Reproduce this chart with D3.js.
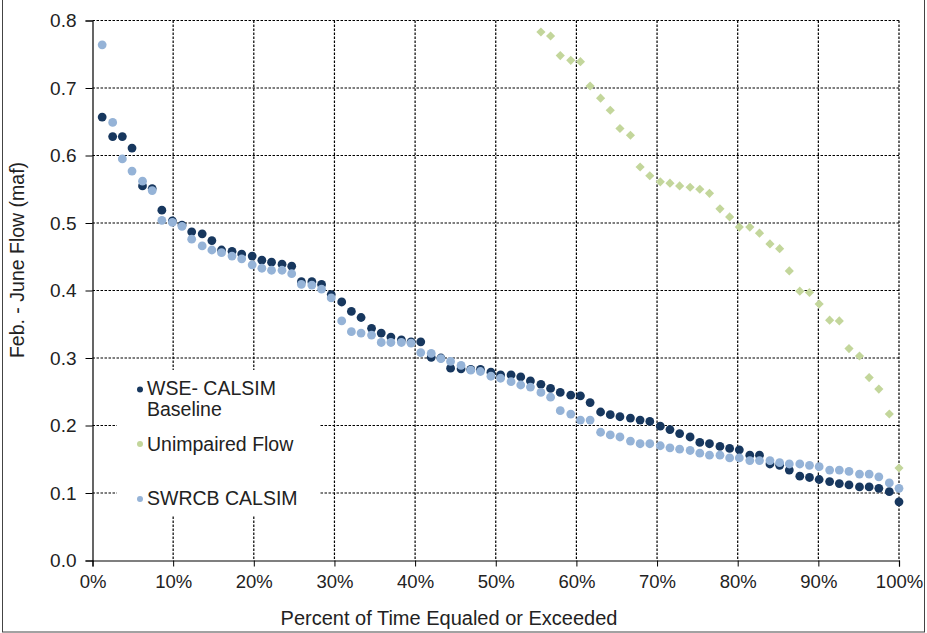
<!DOCTYPE html>
<html>
<head>
<meta charset="utf-8">
<script src="https://cdn.jsdelivr.net/npm/d3@7"></script>
<style>
  html, body { margin: 0; padding: 0; background: #fff; }
  svg { display: block; }
  text { font-family: "Liberation Sans", Arial, sans-serif; fill: #222; }
</style>
</head>
<body>
<svg id="chart" width="927" height="633"></svg>
<script>
// Percent of time equaled or exceeded (81 ranked years)
const exceedPct = [1.2, 2.5, 3.7, 4.9, 6.2, 7.4, 8.6, 9.9, 11.1, 12.3, 13.6, 14.8, 16.0, 17.3, 18.5, 19.8, 21.0, 22.2, 23.5, 24.7,
  25.9, 27.2, 28.4, 29.6, 30.9, 32.1, 33.3, 34.6, 35.8, 37.0, 38.3, 39.5, 40.7, 42.0, 43.2, 44.4, 45.7, 46.9, 48.1, 49.4,
  50.6, 51.9, 53.1, 54.3, 55.6, 56.8, 58.0, 59.3, 60.5, 61.7, 63.0, 64.2, 65.4, 66.7, 67.9, 69.1, 70.4, 71.6, 72.8, 74.1,
  75.3, 76.5, 77.8, 79.0, 80.2, 81.5, 82.7, 84.0, 85.2, 86.4, 87.7, 88.9, 90.1, 91.4, 92.6, 93.8, 95.1, 96.3, 97.5, 98.8, 100.0];

const wseBaseline = [0.657, 0.628, 0.628, 0.611, 0.555, 0.551, 0.519, 0.503, 0.497, 0.487,
  0.484, 0.474, 0.460, 0.458, 0.454, 0.451, 0.445, 0.442, 0.439, 0.436,
  0.413, 0.413, 0.409, 0.394, 0.383, 0.369, 0.360, 0.344, 0.337, 0.331,
  0.327, 0.324, 0.324, 0.301, 0.300, 0.285, 0.284, 0.283, 0.283, 0.279,
  0.275, 0.275, 0.272, 0.266, 0.261, 0.255, 0.249, 0.245, 0.244, 0.234,
  0.220, 0.216, 0.213, 0.211, 0.208, 0.206, 0.199, 0.194, 0.188, 0.183,
  0.175, 0.173, 0.169, 0.166, 0.164, 0.156, 0.156, 0.143, 0.141, 0.134,
  0.125, 0.123, 0.120, 0.117, 0.114, 0.112, 0.109, 0.109, 0.107, 0.102,
  0.087];

const swrcbCalsim = [0.764, 0.649, 0.595, 0.577, 0.562, 0.548, 0.504, 0.501, 0.495, 0.476,
  0.466, 0.460, 0.456, 0.451, 0.447, 0.438, 0.433, 0.430, 0.430, 0.425,
  0.409, 0.408, 0.402, 0.389, 0.355, 0.339, 0.337, 0.334, 0.323, 0.323,
  0.323, 0.322, 0.308, 0.307, 0.299, 0.295, 0.289, 0.282, 0.280, 0.273,
  0.270, 0.265, 0.260, 0.257, 0.249, 0.242, 0.222, 0.217, 0.208, 0.208,
  0.190, 0.186, 0.183, 0.177, 0.173, 0.173, 0.170, 0.167, 0.165, 0.163,
  0.159, 0.156, 0.156, 0.152, 0.152, 0.148, 0.148, 0.148, 0.145, 0.143,
  0.143, 0.141, 0.139, 0.134, 0.134, 0.132, 0.128, 0.128, 0.124, 0.115,
  0.107];

// Unimpaired flow: the 44 highest years are above the 0.8 axis limit (not visible)
const unimpairedHiddenCount = 44;
const unimpairedFlow = [0.783, 0.777, 0.748, 0.741, 0.739, 0.703, 0.685, 0.667, 0.640, 0.630,
  0.583, 0.570, 0.561, 0.559, 0.555, 0.553, 0.550, 0.544, 0.521, 0.509,
  0.494, 0.494, 0.485, 0.469, 0.462, 0.429, 0.399, 0.397, 0.380, 0.356,
  0.355, 0.314, 0.303, 0.271, 0.254, 0.217, 0.137];

const xTicks = [0, 10, 20, 30, 40, 50, 60, 70, 80, 90, 100];
const yTicks = [0.0, 0.1, 0.2, 0.3, 0.4, 0.5, 0.6, 0.7, 0.8];

const seriesNames = ["WSE- CALSIM\nBaseline", "Unimpaired Flow", "SWRCB CALSIM"];
const colors = { wse: "#17375e", unimp: "#c3d69b", swrcb: "#95b3d7" };

const svg = d3.select("#chart");
const W = 927, H = 633;
const plot = { left: 92.5, right: 899, top: 20.5, bottom: 560.5 };

// outer frame
svg.append("rect").attr("x", 2.5).attr("y", -2).attr("width", 922).attr("height", H + 1)
  .attr("fill", "#fff").attr("stroke", "#444").attr("stroke-width", 1);

const x = d3.scaleLinear().domain([0, 100]).range([plot.left, plot.right]);
const y = d3.scaleLinear().domain([0, 0.8]).range([plot.bottom, plot.top]);

// gridlines
const grid = svg.append("g");
grid.selectAll("line.h").data(yTicks.filter(d => d > 0)).join("line")
  .attr("x1", plot.left).attr("x2", plot.right)
  .attr("y1", d => y(d)).attr("y2", d => y(d))
  .attr("stroke", "#000").attr("stroke-width", 1.2).attr("stroke-dasharray", "2.5,1.5");
grid.selectAll("line.v").data(xTicks.filter(d => d > 0)).join("line")
  .attr("x1", d => x(d)).attr("x2", d => x(d))
  .attr("y1", plot.top).attr("y2", plot.bottom)
  .attr("stroke", "#000").attr("stroke-width", 1.2).attr("stroke-dasharray", "2.5,1.5");

// legend box (covers gridlines)
svg.append("rect").attr("x", 117).attr("y", 370).attr("width", 203).attr("height", 145).attr("fill", "#fff");

// axes
const xAxis = d3.axisBottom(x).tickValues(xTicks).tickFormat(d => d + "%").tickSize(6).tickPadding(8);
const gx = svg.append("g").attr("transform", `translate(0,${plot.bottom})`).call(xAxis);
gx.select(".domain").attr("stroke", "#000").attr("stroke-width", 1.2);
gx.selectAll(".tick line").attr("stroke", "#000");
gx.selectAll(".tick text").attr("font-size", 18.5).attr("fill", "#222")
  .attr("font-family", "Liberation Sans, Arial, sans-serif");

const yAxis = d3.axisLeft(y).tickValues(yTicks).tickFormat(d3.format(".1f")).tickSize(7).tickPadding(9);
const gy = svg.append("g").attr("transform", `translate(${plot.left},0)`).call(yAxis);
gy.select(".domain").attr("stroke", "#000").attr("stroke-width", 1.2);
gy.selectAll(".tick line").attr("stroke", "#000");
gy.selectAll(".tick text").attr("font-size", 19).attr("fill", "#222")
  .attr("font-family", "Liberation Sans, Arial, sans-serif");

// axis titles
svg.append("text").attr("x", 449).attr("y", 625).attr("text-anchor", "middle")
  .attr("font-size", 20).text("Percent of Time Equaled or Exceeded");
svg.append("text").attr("transform", "translate(24,260) rotate(-90)").attr("text-anchor", "middle")
  .attr("font-size", 19.5).text("Feb. - June Flow (maf)");

// data points
const pts = svg.append("g");
const wseData = wseBaseline.map((v, i) => ({ p: exceedPct[i], v }));
const unimpData = unimpairedFlow.map((v, i) => ({ p: exceedPct[i + unimpairedHiddenCount], v }));
const swrcbData = swrcbCalsim.map((v, i) => ({ p: exceedPct[i], v }));

pts.selectAll("circle.wse").data(wseData).join("circle")
  .attr("cx", d => x(d.p)).attr("cy", d => y(d.v)).attr("r", 4.4).attr("fill", colors.wse);

pts.selectAll("path.unimp").data(unimpData).join("path")
  .attr("d", d3.symbol().type(d3.symbolSquare).size(42)())
  .attr("transform", d => `translate(${x(d.p)},${y(d.v)}) rotate(45)`)
  .attr("fill", colors.unimp);

pts.selectAll("circle.swrcb").data(swrcbData).join("circle")
  .attr("cx", d => x(d.p)).attr("cy", d => y(d.v)).attr("r", 4.4).attr("fill", colors.swrcb);

// legend
const leg = svg.append("g");
const legItems = [
  { name: seriesNames[0], color: colors.wse, cy: 389.5, ty: 395 },
  { name: seriesNames[1], color: colors.unimp, cy: 444, ty: 450.5 },
  { name: seriesNames[2], color: colors.swrcb, cy: 499, ty: 505 }
];
legItems.forEach(it => {
  leg.append("circle").attr("cx", 140).attr("cy", it.cy).attr("r", 3).attr("fill", it.color);
  const t = leg.append("text").attr("x", 147).attr("y", it.ty).attr("font-size", 19.5);
  it.name.split("\n").forEach((line, k) => {
    t.append("tspan").attr("x", 147).attr("dy", k === 0 ? 0 : 20.5).text(line);
  });
});
</script>
</body>
</html>
